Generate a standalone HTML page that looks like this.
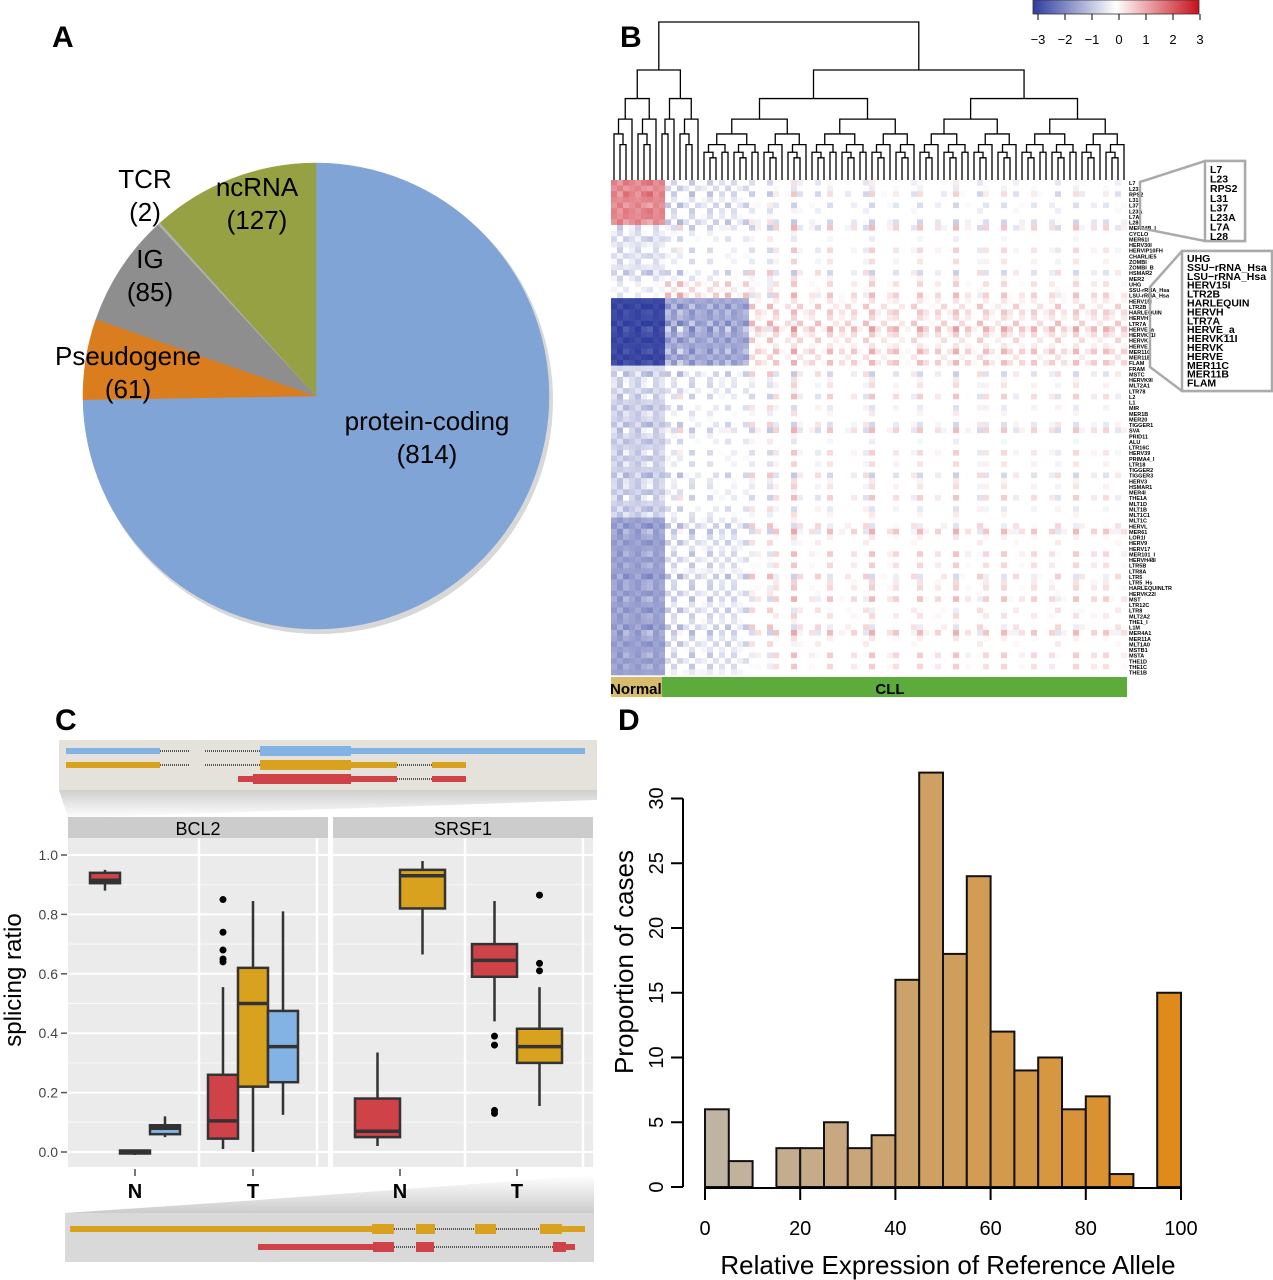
<!DOCTYPE html>
<html><head><meta charset="utf-8"><style>
html,body{margin:0;padding:0;background:#fff;width:1273px;height:1280px;overflow:hidden}
svg{display:block;font-family:"Liberation Sans",Arial,sans-serif}
</style></head><body>
<svg id="fig" width="1273" height="1280" viewBox="0 0 1273 1280" xmlns="http://www.w3.org/2000/svg">
<defs>
<linearGradient id="cbar" x1="0" x2="1" y1="0" y2="0">
<stop offset="0" stop-color="#2f3d9e"/><stop offset="0.5" stop-color="#ffffff"/><stop offset="1" stop-color="#c8101c"/>
</linearGradient>
<linearGradient id="shadeTop" x1="0" x2="0" y1="0" y2="1"><stop offset="0" stop-color="#cfcfcf"/><stop offset="1" stop-color="#ffffff"/></linearGradient>
<linearGradient id="shadeBot" x1="0" x2="0" y1="0" y2="1"><stop offset="0" stop-color="#ffffff"/><stop offset="1" stop-color="#cccccc"/></linearGradient>
</defs>
<g id="panelA"></g>
<g id="panelB"></g>
<g id="panelC"></g>
<g id="panelD"></g>
<text x="52" y="47" font-size="30" font-weight="bold">A</text>
<text x="620" y="47" font-size="30" font-weight="bold">B</text>
<text x="55" y="730" font-size="30" font-weight="bold">C</text>
<text x="618" y="730" font-size="30" font-weight="bold">D</text>
</svg>
<script>
const NS="http://www.w3.org/2000/svg";
function mk(parent,tag,attrs,text){const e=document.createElementNS(NS,tag);for(const k in attrs)e.setAttribute(k,attrs[k]);if(text!==undefined)e.textContent=text;parent.appendChild(e);return e;}

/* ---------- Panel A data ---------- */
const pieCategories=["protein-coding","Pseudogene","IG","TCR","ncRNA"];
const pieValues=[814,61,85,2,127];
const pieColors=["#80a4d6","#d97d1f","#8e8e8e","#b0b0b0","#95a142"];
const pieLabelPos=[[427,430],[128,365],[150,268],[145,188],[257,196]];
(function(){
 const g=document.getElementById('panelA');
 const cx=316,cy=396,r=233;
 const total=pieValues.reduce((a,b)=>a+b,0);
 mk(g,'circle',{cx:cx+3,cy:cy+4,r:r+1,fill:'#d8d8d8'});
 let a0=-Math.PI/2;
 pieValues.forEach((v,i)=>{
  const a1=a0+v/total*2*Math.PI;
  const large=(a1-a0)>Math.PI?1:0;
  const p=mk(g,'path',{d:`M${cx},${cy} L${cx+r*Math.cos(a0)},${cy+r*Math.sin(a0)} A${r},${r} 0 ${large} 1 ${cx+r*Math.cos(a1)},${cy+r*Math.sin(a1)} Z`,fill:pieColors[i],stroke:pieColors[i],'stroke-width':0.5});
  
  
  a0=a1;
 });
 pieCategories.forEach((c,i)=>{
  const t=mk(g,'text',{x:pieLabelPos[i][0],y:pieLabelPos[i][1],'font-size':26,'text-anchor':'middle'},c);
  
  
  const t2=mk(g,'text',{x:pieLabelPos[i][0],y:pieLabelPos[i][1]+33,'font-size':26,'text-anchor':'middle'},'('+pieValues[i]+')');
  
  
 });
})();

/* ---------- Panel B data ---------- */
const rowLabels=["L7","L23","RPS2","L31","L37","L23A","L7A","L28","MER34B_I","CYCLO","MER61I","HERV30I","HERVIP10FH","CHARLIE5","ZOMBI","ZOMBI_B","HSMAR2","MER2","UHG","SSU-rRNA_Hsa","LSU-rRNA_Hsa","HERV15I","LTR2B","HARLEQUIN","HERVH","LTR7A","HERVE_a","HERVK11I","HERVK","HERVE","MER11C","MER11B","FLAM","FRAM","MSTC","HERVK9I","MLT2A1","LTR78","L2","L1","MIR","MER1B","MER20","TIGGER1","SVA","PRID11","ALU","LTR16C","HERV39","PRIMA4_I","LTR18","TIGGER2","TIGGER3","HERV3","HSMAR1","MER4I","THE1A","MLT1D","MLT1B","MLT1C1","MLT1C","HERVL","MER61","LOR1I","HERV9","HERV17","MER101_I","HERVH48I","LTR5B","LTR8A","LTR5","LTR5_Hs","HARLEQUINLTR","HERVK22I","MST","LTR12C","LTR8","MLT2A2","THE1_I","L1M","MER4A1","MER11A","MLT1A0","MSTB1","MSTA","THE1D","THE1C","THE1B"];
const blockSizes=[8,10,3,12,5,22,28];
const blockNormal=[1.3,-0.5,-0.3,-2.8,-0.6,-0.7,-1.3];
const blockNear=[-0.4,-0.2,0.3,-1.2,-0.3,-0.2,-0.4];
const blockCLL=[-0.1,0.0,0.1,0.3,0.0,0.0,0.1];
const colGroups=[0,0,0,0,0,0,0,0,0,1,1,1,1,1,1,1,1,1,1,1,1,1,1,2,2,2,2,2,2,2,2,2,2,2,2,2,2,2,2,2,2,2,2,2,2,2,2,2,2,2,2,2,2,2,2,2,2,2,2,2,2,2,2,2,2,2,2,2,2,2,2,2,2,2,2,2,2,2,2,2,2,2,2,2,2,2];
const colTexture=[0.2,-0.3,0.4,0.1,-0.2,0.3,0.5,-0.1,0.2,0.6,-0.4,0.8,0.2,-0.6,0.3,0.1,-0.5,0.4,-0.2,0.6,-0.3,0.1,0.5,-0.7,0.4,0.2,-0.8,0.6,0.1,-0.3,0.9,-0.5,0.2,0.4,-0.6,0.1,0.7,-0.2,0.3,-0.4,0.5,0.1,-0.6,0.8,0.2,-0.3,0.4,0.6,-0.2,0.1,-0.5,0.7,0.3,-0.1,0.5,-0.4,0.2,0.8,-0.3,0.4,0.1,-0.6,0.6,0.2,-0.2,0.7,0.3,-0.5,0.4,0.1,0.6,-0.3,0.2,0.5,-0.6,0.3,0.1,0.7,-0.4,0.2,0.5,-0.2,0.6,0.3,-0.5,0.4];
const rowTexture=[0.6,-0.4,0.8,0.2,-0.6,0.5,0.3,-0.7,0.9,0.4,-0.5,0.2,0.7,-0.3,0.6,0.1,-0.8,0.5];
const scaleTicks=[-3,-2,-1,0,1,2,3];
const calloutTop=["L7","L23","RPS2","L31","L37","L23A","L7A","L28"];
const calloutMid=["UHG","SSU\u2212rRNA_Hsa","LSU\u2212rRNA_Hsa","HERV15I","LTR2B","HARLEQUIN","HERVH","LTR7A","HERVE_a","HERVK11I","HERVK","HERVE","MER11C","MER11B","FLAM"];
(function(){
 const g=document.getElementById('panelB');
 const X0=611,X1=1127,Y0=180,Y1=675;
 const nc=colGroups.length,nr=rowLabels.length;
 const cw=(X1-X0)/nc,rh=(Y1-Y0)/nr;
 const xCol=c=>X0+c*cw, yRow=r=>Y0+r*rh;
 const rowBlock=[];blockSizes.forEach((s,b)=>{for(let i=0;i<s;i++)rowBlock.push(b);});
 function color(v){
  const mag=Math.max(0,Math.abs(v)-0.35);
  if(mag<=0)return '#ffffff';
  const t=Math.min(1,mag/2.65);
  const c=v<0?[47,61,158]:[200,16,28];
  const m=k=>Math.round(255+(c[k]-255)*Math.pow(t,0.7));
  return `rgb(${m(0)},${m(1)},${m(2)})`;}
 const hm=mk(g,'g',{});
 
 for(let r=0;r<nr;r++){const b=rowBlock[Math.min(r,rowBlock.length-1)];
  for(let c=0;c<nc;c++){
   const grp=colGroups[c];
   const base=grp===0?blockNormal[b]:grp===1?blockNear[b]:blockCLL[b];
   const v=base+1.1*colTexture[c]*rowTexture[r%rowTexture.length];
   const cell=mk(hm,'rect',{x:xCol(c),y:yRow(r),width:cw+0.3,height:rh+0.3,fill:color(v)});
   
   
  }}
 const dg=mk(g,'g',{stroke:'#000','stroke-width':1.3,fill:'none'});
 
 function tree(lo,hi,top,depth){
  if(hi-lo===1) return xCol(lo)+cw/2;
  let mid=depth===0?15:Math.floor((lo+hi)/2)+((depth%2)?1:0);
  if(mid<=lo)mid=lo+1; if(mid>=hi)mid=hi-1;
  const ny=top+(172-top)*(depth===0?0.32:0.28);
  const lx=tree(lo,mid,ny,depth+1), rx=tree(mid,hi,ny,depth+1);
  const lyL=(mid-lo===1)?Y0:ny, lyR=(hi-mid===1)?Y0:ny;
  mk(dg,'path',{d:`M${lx},${lyL} L${lx},${top} L${rx},${top} L${rx},${lyR}`});
  return (lx+rx)/2;
 }
 tree(0,nc,22,0);
 rowLabels.forEach((l,r)=>{const t=mk(g,'text',{x:1129,y:yRow(r)+rh-0.5,'font-size':5.5,'font-weight':'bold'},l);
  });
 const cb=mk(g,'g',{});
 mk(cb,'polygon',{points:'1140,182 1205,161 1245,161 1245,241 1205,241 1140,228',fill:'none',stroke:'#aaa','stroke-width':2.5});
 mk(cb,'rect',{x:1205,y:161,width:40,height:80,fill:'#fff',stroke:'#aaa','stroke-width':2.5});
 calloutTop.forEach((l,i)=>mk(cb,'text',{x:1210,y:173+i*9.6,'font-size':10.5,'font-weight':'bold'},l));
 const cm=mk(g,'g',{});
 mk(cm,'polygon',{points:'1150,287 1182,251 1272,251 1272,391 1182,391 1150,367',fill:'none',stroke:'#aaa','stroke-width':2.5});
 mk(cm,'rect',{x:1182,y:251,width:90,height:140,fill:'#fff',stroke:'#aaa','stroke-width':2.5});
 calloutMid.forEach((l,i)=>mk(cm,'text',{x:1187,y:262+i*8.9,'font-size':10.5,'font-weight':'bold'},l));
 const sc=mk(g,'g',{});
 mk(sc,'rect',{x:1033,y:0,width:166,height:14,fill:'url(#cbar)',stroke:'#333','stroke-width':0.8});
 scaleTicks.forEach((v,i)=>{const x=1038+(v+3)/6*162;
  mk(sc,'line',{x1:x,x2:x,y1:14,y2:20,stroke:'#000'});
  mk(sc,'text',{x:x,y:44,'font-size':13,'text-anchor':'middle'},v<0?'\u2212'+(-v):String(v));});
 const gb=mk(g,'g',{});
 mk(gb,'rect',{x:611,y:677,width:51,height:20,fill:'#d8bc6c'});
 mk(gb,'rect',{x:662,y:677,width:465,height:20,fill:'#5dab3b'});
 mk(gb,'text',{x:610,y:694,'font-size':15,'font-weight':'bold'},'Normal');
 mk(gb,'text',{x:890,y:694,'font-size':15,'font-weight':'bold','text-anchor':'middle'},'CLL');
})();

/* ---------- Panel C data ---------- */
const yTicksC=[0.0,0.2,0.4,0.6,0.8,1.0];
const facetNames=["BCL2","SRSF1"];
const xGroupsC=["N","T"];
const boxFacet=[0,0,0,0,0,0,1,1,1,1];
const boxGroup=[0,0,0,1,1,1,0,0,1,1];
const boxSlot=[0,1,2,0,1,2,0,1,0,1];
const boxColor=["#cf4247","#d9a21e","#82b3e4","#cf4247","#d9a21e","#82b3e4","#cf4247","#d9a21e","#cf4247","#d9a21e"];
const boxLow=[0.88,-0.01,0.05,0.01,0.0,0.125,0.02,0.665,0.44,0.155];
const boxQ1=[0.905,-0.005,0.06,0.045,0.22,0.235,0.05,0.82,0.59,0.30];
const boxMed=[0.915,0.0,0.08,0.105,0.50,0.355,0.07,0.93,0.645,0.355];
const boxQ3=[0.94,0.005,0.09,0.26,0.62,0.475,0.18,0.95,0.70,0.415];
const boxHigh=[0.95,0.005,0.12,0.555,0.845,0.81,0.335,0.98,0.845,0.555];
const outlierBox=[3,3,3,3,3,8,8,8,8,9,9,9];
const outlierVal=[0.64,0.65,0.68,0.74,0.85,0.39,0.36,0.14,0.13,0.635,0.61,0.865];
(function(){
 const g=document.getElementById('panelC');
 const facX=[68,333],facW=260,PT=838,PB=1167;
 const y=v=>1152-v*297;
 const grpX=[[135,253],[400,517]];
 mk(g,'polygon',{points:'59,790 597,790 597,800 68,818',fill:'url(#shadeTop)'});
 const tb=mk(g,'rect',{x:59,y:740,width:538,height:50,fill:'#e4e2da'});
 
 mk(g,'polygon',{points:'258,1200 594,1175 594,1213 65,1213',fill:'url(#shadeBot)'});
 const bb=mk(g,'rect',{x:65,y:1213,width:529,height:49,fill:'#d9d9d9'});
 
 function tx(yy,col,segs,name){const tg=mk(g,'g',{});
  segs.forEach(s=>{if(s[2]==='d')mk(tg,'line',{x1:s[0],x2:s[1],y1:yy,y2:yy,stroke:'#555','stroke-width':2,'stroke-dasharray':'1 1'});
   else mk(tg,'rect',{x:s[0],y:yy-(s[2]==='k'?5:3),width:s[1]-s[0],height:s[2]==='k'?10:6,fill:col});});}
 tx(751,'#82b3e4',[[66,160,'t'],[160,190,'d'],[205,260,'d'],[260,351,'k'],[351,585,'t']],'transcript-bcl2-blue');
 tx(765,'#d9a21e',[[66,160,'t'],[160,190,'d'],[205,260,'d'],[260,351,'k'],[351,397,'t'],[397,432,'d'],[432,466,'t']],'transcript-bcl2-gold');
 tx(779,'#cf4247',[[238,253,'t'],[253,351,'k'],[351,397,'t'],[397,432,'d'],[432,466,'t']],'transcript-bcl2-red');
 tx(1229,'#d9a21e',[[70,372,'t'],[372,394,'k'],[394,416,'d'],[416,435,'k'],[435,475,'d'],[475,496,'k'],[496,540,'d'],[540,562,'k'],[562,585,'t']],'transcript-srsf1-gold');
 tx(1247,'#cf4247',[[258,373,'t'],[373,394,'k'],[394,416,'d'],[416,434,'k'],[434,553,'d'],[553,566,'k'],[566,575,'t']],'transcript-srsf1-red');
 facetNames.forEach((f,fi)=>{
  const fx=facX[fi];
  const st=mk(g,'rect',{x:fx,y:817,width:facW,height:21,fill:'#cccccc'});
  
  mk(g,'text',{x:fx+facW/2,y:835,'font-size':18,'text-anchor':'middle'},f);
  const bg=mk(g,'rect',{x:fx,y:PT,width:facW,height:PB-PT,fill:'#ebebeb'});
  
  for(let v=0.1;v<1.05;v+=0.2)mk(g,'line',{x1:fx,x2:fx+facW,y1:y(v),y2:y(v),stroke:'#f7f7f7','stroke-width':1});
  yTicksC.forEach(v=>mk(g,'line',{x1:fx,x2:fx+facW,y1:y(v),y2:y(v),stroke:'#fff','stroke-width':2}));
  [fi===0?199:465,fi===0?317:583].forEach(x=>mk(g,'line',{x1:x,x2:x,y1:PT,y2:PB,stroke:'#fff','stroke-width':2.5}));
  xGroupsC.forEach((gn,gi)=>{const x=grpX[fi][gi];
   mk(g,'line',{x1:x,x2:x,y1:1169,y2:1176,stroke:'#777','stroke-width':2});
   const t=mk(g,'text',{x:x,y:1198,'font-size':20,'font-weight':'bold','text-anchor':'middle'},gn);
   });
 });
 yTicksC.forEach(v=>{mk(g,'line',{x1:61,x2:67,y1:y(v),y2:y(v),stroke:'#555','stroke-width':1.5});
  const t=mk(g,'text',{x:58,y:y(v)+5,'font-size':14,fill:'#444','text-anchor':'end'},v.toFixed(1));
  });
 const yt=mk(g,'text',{x:0,y:0,'font-size':24,'text-anchor':'middle',transform:'translate(21,980) rotate(-90)'},'splicing ratio');
 
 function boxX(i){const fi=boxFacet[i];const n=fi===0?3:2;const w=fi===0?30:45;
  const cx=grpX[fi][boxGroup[i]];return {x:cx-n*w/2+boxSlot[i]*w,w:w};}
 boxLow.forEach((_,i)=>{
  const b=boxX(i),mx=b.x+b.w/2;
  const bg=mk(g,'g',{stroke:'#333','stroke-width':2.5});
  
  
  mk(bg,'line',{x1:mx,x2:mx,y1:y(boxLow[i]),y2:y(boxHigh[i])});
  mk(bg,'rect',{x:b.x,y:y(boxQ3[i]),width:b.w,height:Math.max(2,y(boxQ1[i])-y(boxQ3[i])),fill:boxColor[i]});
  mk(bg,'line',{x1:b.x,x2:b.x+b.w,y1:y(boxMed[i]),y2:y(boxMed[i]),'stroke-width':3.5});
 });
 outlierBox.forEach((bi,k)=>{const b=boxX(bi);
  const o=mk(g,'circle',{cx:b.x+b.w/2,cy:y(outlierVal[k]),r:3.5,fill:'#000'});
  });
})();

/* ---------- Panel D data ---------- */
const binStarts=[0,5,10,15,20,25,30,35,40,45,50,55,60,65,70,75,80,85,90,95];
const binCounts=[6,2,0,3,3,5,3,4,16,32,18,24,12,9,10,6,7,1,0,15];
const xTicksD=[0,20,40,60,80,100];
const yTicksD=[0,5,10,15,20,25,30];
(function(){
 const g=document.getElementById('panelD');
 const xs=v=>705+v*4.76, ys=v=>1187-v*12.95;
 function col(v){const t=v/100;const a=[190,180,168],b=[224,138,24];
  return `rgb(${a.map((c,k)=>Math.round(c+(b[k]-c)*t)).join(',')})`;}
 binStarts.forEach((s,i)=>{if(binCounts[i]<=0)return;
  const r=mk(g,'rect',{x:xs(s),y:ys(binCounts[i]),width:xs(s+5)-xs(s),height:ys(0)-ys(binCounts[i]),fill:col(s+2.5),stroke:'#111','stroke-width':2});
  });
 const xa=mk(g,'g',{});
 mk(xa,'line',{x1:xs(0),x2:xs(100),y1:1188,y2:1188,stroke:'#000','stroke-width':2});
 xTicksD.forEach(v=>{mk(xa,'line',{x1:xs(v),x2:xs(v),y1:1188,y2:1200,stroke:'#000','stroke-width':2});
  mk(xa,'text',{x:xs(v),y:1235,'font-size':20,'text-anchor':'middle'},v);});
 const ya=mk(g,'g',{});
 mk(ya,'line',{x1:683,x2:683,y1:ys(0),y2:ys(30),stroke:'#000','stroke-width':2});
 yTicksD.forEach(v=>{mk(ya,'line',{x1:671,x2:683,y1:ys(v),y2:ys(v),stroke:'#000','stroke-width':2});
  mk(ya,'text',{x:0,y:0,'font-size':20,'text-anchor':'middle',transform:`translate(663,${ys(v)}) rotate(-90)`},v);});
 const xt=mk(g,'text',{x:948,y:1274,'font-size':26,'text-anchor':'middle'},'Relative Expression of Reference Allele');
 
 const yt=mk(g,'text',{x:0,y:0,'font-size':26,'text-anchor':'middle',transform:'translate(633,962) rotate(-90)'},'Proportion of cases');
 
})();
</script>
</body></html>
